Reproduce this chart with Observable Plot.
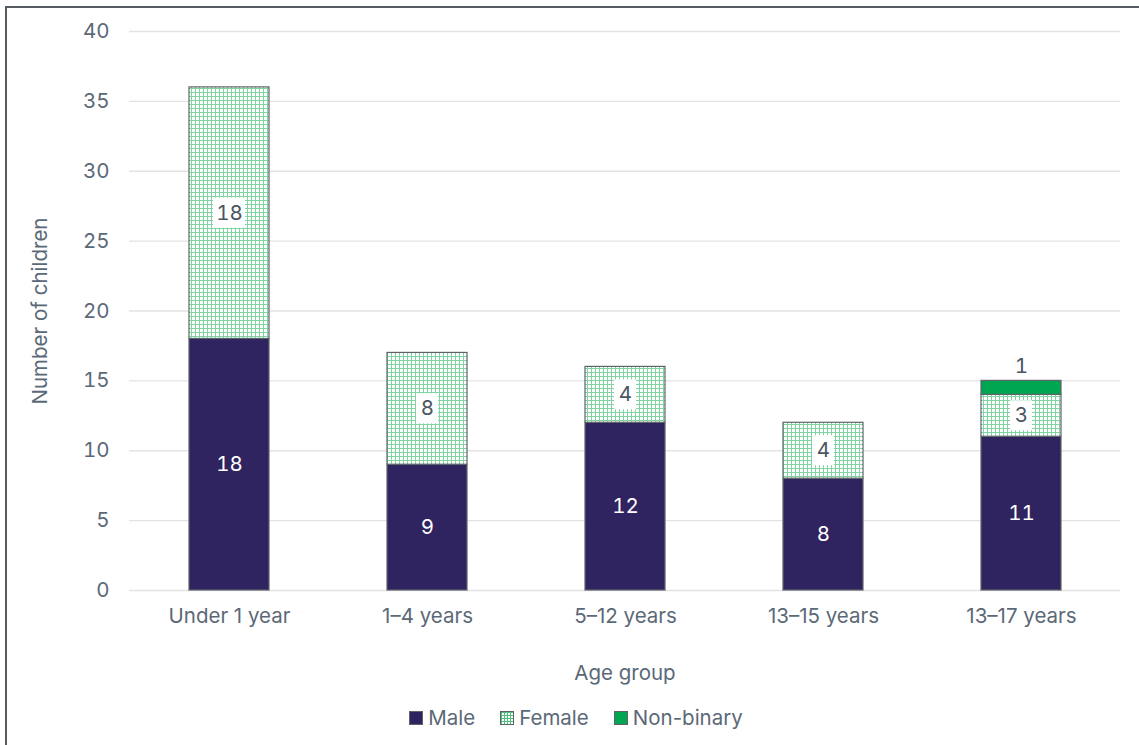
<!DOCTYPE html>
<html>
<head>
<meta charset="utf-8">
<script src="https://cdn.jsdelivr.net/npm/d3@7"></script>
<script src="https://cdn.jsdelivr.net/npm/@observablehq/plot@0.6"></script>
<style>
  html, body { margin: 0; padding: 0; background: #fff; }
  #frame {
    position: absolute; left: 5px; top: 6px; width: 1134px; height: 739px;
    border-left: 2px solid #555b61; border-top: 2px solid #555b61;
    font-family: Inter, "Noto Sans", sans-serif; color: #5b6977;
  }
  #legend {
    display: flex; justify-content: center; align-items: center; gap: 25px;
    font-size: 20.5px; margin-top: 15px; padding-left: 4px;
  }
  #legend .item { display: flex; align-items: center; gap: 5px; }
  #legend svg { display: block; }
</style>
</head>
<body>
<div id="frame">
  <div id="chart"></div>
  <div id="legend"></div>
</div>
<script>
const ageGroups = ["Under 1 year", "1–4 years", "5–12 years", "13–15 years", "13–17 years"];
const male = [18, 9, 12, 8, 11];
const female = [18, 8, 4, 4, 3];
const nonBinary = [0, 0, 0, 0, 1];
const genders = ["Male", "Female", "Non-binary"];
const yTicks = [0, 5, 10, 15, 20, 25, 30, 35, 40];
const colors = { "Male": "#2f2360", "Female": "url(#femalePattern)", "Non-binary": "#00a651" };
const textColor = "#5b6977";
const fs = 20.5;

// build stacked rows
const rows = [];
ageGroups.forEach((age, i) => {
  const vals = [male[i], female[i], nonBinary[i]];
  let base = 0;
  genders.forEach((g, j) => {
    const v = vals[j];
    if (v > 0) rows.push({ age, gender: g, value: v, y1: base, y2: base + v, mid: base + v / 2 });
    base += v;
  });
});
const maleRows = rows.filter(d => d.gender === "Male");
const femaleRows = rows.filter(d => d.gender === "Female");
const nbRows = rows.filter(d => d.gender === "Non-binary");
const fem2 = femaleRows.filter(d => String(d.value).length > 1);
const fem1 = femaleRows.filter(d => String(d.value).length === 1);

const plot = Plot.plot({
  width: 1132,
  height: 682,
  marginTop: 23,
  marginBottom: 100,
  marginLeft: 122,
  marginRight: 19,
  style: { fontFamily: "Inter, 'Noto Sans', sans-serif", fontSize: fs + "px", color: textColor, background: "transparent" },
  x: { domain: ageGroups, paddingInner: 0.596, paddingOuter: 0.298, label: null, tickSize: 0, tickPadding: 18 },
  y: { domain: [0, 40], ticks: yTicks, label: null, tickSize: 0, tickPadding: 20, grid: false },
  color: { type: "identity" },
  marks: [
    Plot.ruleY(yTicks, { stroke: "#e3e3e3", strokeWidth: 1.3 }),
    Plot.barY(rows, { x: "age", y1: "y1", y2: "y2", fill: d => colors[d.gender], stroke: "#5f6368", strokeWidth: 1.2 }),
    Plot.barY(fem2, { x: "age", y1: "mid", y2: "mid", fill: "white", insetLeft: 24, insetRight: 24, insetTop: -15, insetBottom: -15 }),
    Plot.barY(fem1, { x: "age", y1: "mid", y2: "mid", fill: "white", insetLeft: 29, insetRight: 29, insetTop: -15, insetBottom: -15 }),
    Plot.text(maleRows, { x: "age", y: "mid", text: "value", fill: "white", fontSize: fs }),
    Plot.text(femaleRows, { x: "age", y: "mid", text: "value", fill: "#4a5562", fontSize: fs }),
    Plot.text(nbRows, { x: "age", y: "y2", text: "value", fill: "#4a5562", fontSize: fs, dy: -14 }),
    Plot.text(["Number of children"], { frameAnchor: "left", textAnchor: "middle", rotate: -90, dx: -89, fill: textColor, fontSize: fs }),
    Plot.text(["Age group"], { frameAnchor: "bottom", dy: 89, fill: textColor, fontSize: fs })
  ]
});

// pattern definition for Female
const defs = d3.select(plot).insert("defs", ":first-child");
const pat = defs.append("pattern")
  .attr("id", "femalePattern").attr("patternUnits", "userSpaceOnUse")
  .attr("width", 4).attr("height", 4);
pat.append("rect").attr("width", 4).attr("height", 4).attr("fill", "white");
pat.append("rect").attr("x", 0).attr("y", 0).attr("width", 1).attr("height", 4).attr("fill", "#80d4a2");
pat.append("rect").attr("x", 0).attr("y", 0).attr("width", 4).attr("height", 1).attr("fill", "#80d4a2");

document.getElementById("chart").appendChild(plot);

// legend
const legend = d3.select("#legend");
genders.forEach(g => {
  const item = legend.append("div").attr("class", "item");
  const sw = item.append("svg").attr("width", 14).attr("height", 14);
  if (g === "Female") {
    const d = sw.append("defs").append("pattern").attr("id", "legPat").attr("patternUnits", "userSpaceOnUse").attr("width", 3).attr("height", 3);
    d.append("rect").attr("width", 3).attr("height", 3).attr("fill", "white");
    d.append("rect").attr("x", 1).attr("width", 1).attr("height", 3).attr("fill", "#4fc27f");
    d.append("rect").attr("y", 1).attr("width", 3).attr("height", 1).attr("fill", "#4fc27f");
  }
  sw.append("rect").attr("x", 0.5).attr("y", 0.5).attr("width", 13).attr("height", 13)
    .attr("fill", g === "Female" ? "url(#legPat)" : colors[g]).attr("stroke", "#5f6368").attr("stroke-width", 1);
  item.append("span").text(g);
});
</script>
</body>
</html>
